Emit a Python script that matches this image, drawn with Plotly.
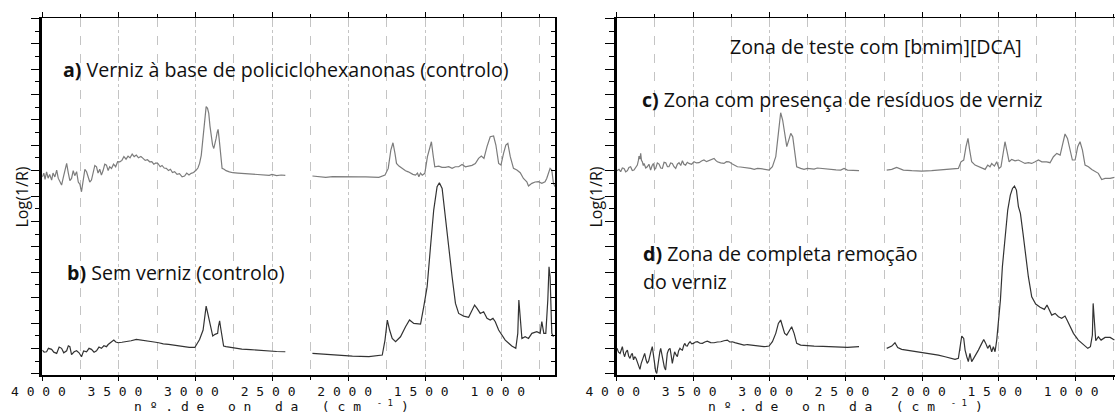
import plotly.graph_objects as go

# ---------------- data (wavenumber cm-1, Log(1/R) arbitrary units) ----------------
# a) varnish control (left, upper)
wn_a1 = [4000, 3990, 3982, 3972, 3962, 3952, 3939, 3930, 3918, 3906, 3896, 3885, 3874, 3862, 3851, 3841,
         3830, 3820, 3809, 3798, 3788, 3776, 3765, 3754, 3744, 3733, 3722, 3711, 3700, 3690, 3679, 3668,
         3657, 3646, 3636, 3625, 3614, 3603, 3592, 3581, 3570, 3560, 3548, 3535, 3521, 3508, 3494, 3480,
         3467, 3453, 3440, 3427, 3413, 3400, 3386, 3372, 3356, 3342, 3328, 3313, 3299, 3285, 3272, 3258,
         3245, 3230, 3218, 3204, 3190, 3176, 3163, 3150, 3136, 3120, 3104, 3087, 3071, 3057, 3042, 3028,
         3012, 2995, 2984, 2973, 2962, 2952, 2941, 2930, 2921, 2913, 2905, 2897, 2888, 2880, 2872, 2865,
         2858, 2852, 2845, 2839, 2832, 2826, 2813, 2800, 2778, 2756, 2723, 2691, 2648, 2605, 2560, 2518,
         2500, 2470, 2440, 2413]
val_a1 = [15.6, 15.9, 15.4, 16.0, 15.5, 15.8, 15.35, 15.9, 15.6, 16.14, 15.5, 15.2, 14.96, 15.6, 16.3, 16.66,
          15.9, 15.3, 15.48, 16.1, 15.7, 16.01, 15.2, 15.0, 14.43, 15.3, 16.2, 16.01, 15.6, 15.2, 15.35, 16.0,
          16.5, 16.4, 15.9, 16.2, 15.74, 16.1, 16.6, 16.53, 16.1, 16.4, 16.27, 16.6, 16.4, 16.8, 16.79, 16.9,
          17.2, 17.0, 17.24, 17.1, 17.4, 17.2, 17.32, 17.1, 17.2, 17.06, 16.9, 16.95, 16.79, 16.8, 16.6, 16.7,
          16.66, 16.4, 16.5, 16.3, 16.27, 16.1, 16.2, 15.95, 16.01, 15.8, 15.85, 15.6, 15.67, 15.9, 15.75, 15.88,
          15.95, 16.14, 16.3, 16.66, 17.3, 18.5, 20.0, 21.13, 21.0, 20.6, 19.6, 18.76, 18.1, 17.84, 18.2, 18.63,
          19.1, 19.34, 18.6, 17.71, 16.8, 16.27, 16.2, 16.09, 16.0, 15.93, 15.9, 15.88, 15.85, 15.82, 15.75, 15.72,
          15.8, 15.7, 15.75, 15.72]
wn_a2 = [2236, 2193, 2149, 2105, 2062, 2018, 1975, 1932, 1888, 1845, 1802, 1762, 1741, 1724, 1710, 1697,
         1687, 1671, 1650, 1628, 1610, 1595, 1580, 1563, 1550, 1541, 1530, 1519, 1502, 1485, 1470, 1459,
         1448, 1437, 1411, 1390, 1368, 1346, 1324, 1303, 1281, 1259, 1237, 1215, 1194, 1172, 1151, 1133,
         1116, 1096, 1075, 1053, 1038, 1020, 1005, 988, 973, 960, 944, 923, 901, 879, 858, 836,
         825, 803, 782, 760, 738, 717, 706, 684, 673, 662, 651]
val_a2 = [15.67, 15.6, 15.56, 15.62, 15.61, 15.57, 15.56, 15.6, 15.61, 15.58, 15.56, 15.74, 16.27, 17.71, 18.29, 17.45,
          16.66, 16.45, 16.27, 16.09, 16.0, 15.88, 15.8, 15.74, 15.9, 15.61, 15.9, 15.74, 15.88, 17.19, 17.98, 18.37,
          17.32, 16.4, 16.45, 16.35, 16.35, 16.4, 16.27, 16.4, 16.4, 16.58, 16.4, 16.45, 16.51, 16.66, 17.06, 17.24,
          17.06, 17.98, 18.76, 18.82, 18.11, 16.66, 16.53, 17.45, 18.11, 18.24, 17.19, 16.27, 16.14, 15.93, 15.48, 15.22,
          14.88, 15.09, 15.2, 15.22, 15.1, 15.22, 15.48, 16.27, 16.14, 15.09, 14.83]

# b) no varnish control (left, lower)
wn_b1 = [4000, 3988, 3972, 3960, 3939, 3925, 3906, 3890, 3874, 3860, 3841, 3830, 3820, 3809, 3792, 3776,
         3760, 3744, 3730, 3711, 3695, 3679, 3662, 3646, 3630, 3614, 3598, 3581, 3570, 3559, 3548, 3533,
         3520, 3505, 3480, 3454, 3420, 3386, 3355, 3320, 3299, 3270, 3240, 3210, 3175, 3140, 3110, 3080,
         3060, 3040, 3004, 2973, 2950, 2940, 2930, 2922, 2915, 2900, 2887, 2872, 2855, 2850, 2842, 2835,
         2829, 2822, 2816, 2800, 2770, 2733, 2697, 2640, 2605, 2560, 2518, 2470, 2413]
val_b1 = [1.96, 1.8, 1.83, 2.1, 2.02, 1.8, 1.7, 2.2, 2.1, 1.75, 1.91, 2.3, 2.23, 1.6, 1.83, 1.91,
          1.75, 1.44, 1.9, 1.83, 2.1, 2.02, 1.8, 1.91, 2.2, 2.1, 2.3, 2.23, 2.4, 2.49, 2.6, 2.75,
          2.6, 2.54, 2.58, 2.62, 2.7, 2.8, 2.75, 2.72, 2.7, 2.6, 2.54, 2.45, 2.41, 2.35, 2.28, 2.25,
          2.2, 2.17, 2.17, 2.8, 3.54, 4.4, 5.43, 5.0, 4.59, 3.6, 3.07, 3.2, 3.28, 3.8, 4.27, 3.7,
          3.28, 2.6, 2.28, 2.23, 2.17, 2.1, 2.04, 2.0, 1.96, 1.92, 1.89, 1.85, 1.83]
wn_b2 = [2236, 2105, 1975, 1867, 1780, 1762, 1747, 1732, 1715, 1693, 1661, 1628, 1602, 1574, 1530, 1509,
         1487, 1465, 1444, 1422, 1407, 1389, 1368, 1346, 1324, 1302, 1281, 1248, 1216, 1194, 1177, 1161,
         1140, 1118, 1096, 1075, 1057, 1042, 1020, 977, 934, 908, 895, 888, 879, 868, 847, 825,
         803, 771, 749, 738, 725, 712, 699, 691, 684, 673, 662]
val_b2 = [1.7, 1.57, 1.49, 1.44, 1.57, 2.75, 4.33, 3.54, 2.88, 2.62, 3.01, 3.8, 4.33, 4.06, 4.01, 5.38,
          6.95, 10.1, 12.99, 14.83, 15.14, 14.69, 12.2, 10.1, 7.74, 5.64, 4.85, 4.64, 4.54, 5.12, 5.51, 5.25,
          4.85, 4.98, 4.46, 4.33, 4.46, 4.2, 3.54, 2.75, 2.28, 2.1, 3.28, 5.9, 4.2, 2.88, 3.01, 2.88,
          3.28, 3.41, 3.28, 4.2, 3.28, 3.28, 5.9, 8.53, 7.74, 3.28, 3.01]

# c) test zone with varnish residues (right, upper)
wn_c1 = [3998, 3985, 3974, 3963, 3952, 3941, 3930, 3920, 3909, 3898, 3887, 3876, 3865, 3858, 3854, 3848,
         3843, 3838, 3832, 3826, 3821, 3810, 3800, 3789, 3778, 3768, 3760, 3752, 3745, 3734, 3723, 3712,
         3701, 3690, 3679, 3668, 3658, 3647, 3636, 3625, 3614, 3603, 3592, 3581, 3570, 3560, 3549, 3538,
         3527, 3510, 3494, 3478, 3461, 3445, 3429, 3412, 3396, 3380, 3363, 3352, 3341, 3320, 3298, 3282,
         3265, 3243, 3227, 3210, 3190, 3167, 3145, 3123, 3100, 3079, 3058, 3036, 3020, 3003, 2981, 2959,
         2942, 2927, 2914, 2901, 2887, 2874, 2861, 2848, 2835, 2822, 2796, 2774, 2752, 2730, 2708, 2687,
         2665, 2630, 2599, 2565, 2534, 2512, 2490, 2450, 2414]
val_c1 = [16.09, 16.2, 16.01, 16.3, 16.27, 16.0, 16.09, 16.35, 16.4, 16.1, 16.14, 16.4, 16.53, 16.9, 17.24, 17.0,
          17.45, 16.9, 16.79, 16.5, 16.66, 16.3, 16.4, 16.6, 16.14, 16.5, 16.66, 16.2, 16.27, 16.7, 16.61, 16.3,
          16.27, 16.75, 16.72, 16.4, 16.4, 16.7, 16.66, 16.4, 16.27, 16.6, 16.72, 16.5, 16.87, 16.6, 16.53, 16.75,
          16.66, 16.6, 16.79, 16.7, 16.72, 16.85, 16.93, 16.8, 16.87, 17.0, 17.06, 16.9, 16.79, 16.7, 16.66, 16.8,
          16.79, 16.61, 16.5, 16.4, 16.38, 16.35, 16.3, 16.27, 16.2, 16.27, 16.25, 16.19, 16.15, 16.14, 16.4, 17.19,
          19.03, 20.65, 20.08, 19.03, 17.98, 18.5, 19.03, 18.76, 17.71, 16.4, 16.27, 16.2, 16.27, 16.25, 16.22, 16.3,
          16.27, 16.2, 16.14, 16.15, 16.14, 16.27, 16.14, 16.1, 16.09]
wn_c2 = [2233, 2200, 2168, 2146, 2124, 2069, 2004, 1939, 1873, 1808, 1764, 1747, 1729, 1714, 1701, 1690,
         1677, 1655, 1633, 1611, 1589, 1572, 1557, 1546, 1528, 1513, 1498, 1485, 1472, 1459, 1445, 1432,
         1415, 1393, 1371, 1349, 1328, 1306, 1284, 1262, 1240, 1218, 1186, 1164, 1142, 1120, 1098, 1083,
         1066, 1050, 1033, 1018, 1000, 983, 968, 952, 935, 913, 891, 869, 848, 826, 804, 771, 743]
val_c2 = [16.14, 16.19, 16.35, 16.27, 16.14, 16.09, 16.06, 16.09, 16.14, 16.19, 16.27, 16.79, 16.93, 17.98, 18.63, 17.71,
          16.79, 16.53, 16.4, 16.27, 16.19, 16.53, 16.4, 16.66, 16.45, 16.79, 16.27, 16.4, 17.45, 18.37, 17.58, 16.79,
          16.98, 16.87, 16.93, 16.79, 16.66, 16.72, 16.66, 16.79, 16.93, 16.79, 16.79, 16.72, 17.19, 17.45, 17.32, 18.11,
          18.98, 18.63, 17.71, 16.93, 16.93, 17.98, 18.37, 17.71, 16.53, 16.4, 16.19, 16.01, 15.88, 15.4, 15.48, 15.48, 15.56]

# d) test zone, varnish completely removed (right, lower)
wn_d1 = [3998, 3988, 3978, 3970, 3963, 3955, 3948, 3940, 3930, 3922, 3913, 3905, 3898, 3890, 3882, 3873,
         3865, 3856, 3848, 3840, 3832, 3825, 3817, 3808, 3800, 3791, 3782, 3775, 3767, 3760, 3751, 3745,
         3738, 3731, 3725, 3718, 3712, 3703, 3695, 3688, 3680, 3675, 3669, 3660, 3651, 3643, 3636, 3628,
         3621, 3612, 3603, 3595, 3586, 3578, 3570, 3562, 3555, 3546, 3538, 3529, 3520, 3509, 3498, 3485,
         3472, 3455, 3439, 3423, 3407, 3385, 3363, 3341, 3319, 3298, 3276, 3260, 3243, 3227, 3210, 3190,
         3167, 3145, 3123, 3101, 3079, 3058, 3036, 3020, 3003, 2981, 2959, 2942, 2927, 2914, 2901, 2887,
         2870, 2855, 2839, 2822, 2796, 2750, 2708, 2650, 2599, 2545, 2490, 2414]
val_d1 = [2.1, 1.8, 1.7, 2.1, 2.23, 1.7, 1.44, 1.8, 1.96, 1.5, 1.31, 1.6, 1.7, 1.2, 1.44, 1.3,
          1.05, 0.7, 0.44, 0.9, 1.18, 1.5, 1.7, 1.2, 0.92, 1.1, 1.44, 1.9, 2.23, 1.5, 0.65, 0.3,
          0.13, 0.8, 1.31, 1.8, 2.1, 1.4, 0.92, 0.6, 0.39, 0.9, 1.7, 2.0, 2.1, 1.5, 0.92, 1.4,
          1.83, 1.6, 1.44, 1.9, 2.1, 2.0, 1.96, 2.3, 2.49, 2.3, 2.28, 2.5, 2.62, 2.45, 2.49, 2.6,
          2.62, 2.5, 2.49, 2.6, 2.67, 2.55, 2.54, 2.6, 2.62, 2.7, 2.75, 2.6, 2.62, 2.55, 2.49, 2.45,
          2.36, 2.4, 2.36, 2.3, 2.28, 2.25, 2.23, 2.25, 2.28, 2.62, 3.28, 4.06, 4.33, 3.8, 3.28, 3.15,
          3.54, 3.8, 3.28, 2.49, 2.36, 2.3, 2.28, 2.25, 2.23, 2.2, 2.17, 2.23]
wn_d2 = [2233, 2200, 2179, 2161, 2135, 2069, 2004, 1939, 1895, 1851, 1819, 1786, 1764, 1753, 1742, 1729,
         1720, 1709, 1699, 1688, 1677, 1664, 1650, 1633, 1611, 1598, 1585, 1572, 1559, 1546, 1535, 1524,
         1513, 1502, 1489, 1476, 1458, 1441, 1424, 1410, 1397, 1384, 1371, 1358, 1341, 1323, 1306, 1284,
         1258, 1229, 1201, 1184, 1170, 1153, 1131, 1109, 1088, 1066, 1053, 1033, 1011, 979, 946, 917,
         900, 887, 882, 874, 865, 848, 830, 804, 771, 743]
val_d2 = [2.1, 2.28, 2.54, 2.17, 2.02, 1.91, 1.76, 1.65, 1.57, 1.44, 1.31, 1.23, 1.31, 2.1, 3.07, 2.88,
          1.96, 1.44, 1.05, 1.7, 1.05, 1.31, 1.57, 1.96, 2.49, 2.8, 2.49, 2.1, 2.36, 1.83, 2.23, 1.83,
          2.75, 4.06, 5.9, 8.53, 11.15, 12.99, 14.17, 14.69, 14.88, 14.56, 13.25, 12.73, 11.15, 9.31, 7.74, 6.16,
          5.59, 5.33, 5.17, 5.51, 5.12, 4.72, 4.85, 4.59, 4.46, 4.64, 4.33, 3.8, 3.28, 2.75, 2.36, 2.1,
          2.23, 3.15, 5.64, 3.8, 2.7, 3.01, 2.75, 2.96, 2.96, 2.75]

tick_vals = [4000, 3500, 3000, 2500, 2000, 1500, 1000]
tick_labels = ["4 0 0 0", "3 5 0 0", "3 0 0 0", "2 5 0 0", "2 0 0 0", "1 5 0 0", "1 0 0 0"]

label_a = "<b>a)</b> Verniz à base de policiclohexanonas (controlo)"
label_b = "<b>b)</b> Sem verniz (controlo)"
label_title_r = "Zona de teste com [bmim][DCA]"
label_c = "<b>c)</b> Zona com presença de resíduos de verniz"
label_d1 = "<b>d)</b> Zona de completa remoção"
label_d2 = "do verniz"
y_title = "Log(1/R)"

# ---------------- figure ----------------
W, H = 1115, 414
NB = "\u00a0"
MONO = "DejaVu Sans Mono, Liberation Mono, monospace"


def join_gap(a, b):
    return a + [None] + b


fig = go.Figure()

line_light = dict(color="#7c7c7c", width=1.2)
line_dark = dict(color="#333333", width=1.2)

fig.add_trace(go.Scatter(x=join_gap(wn_a1, wn_a2), y=join_gap(val_a1, val_a2), mode="lines",
                         line=line_light, xaxis="x", yaxis="y", connectgaps=False))
fig.add_trace(go.Scatter(x=join_gap(wn_b1, wn_b2), y=join_gap(val_b1, val_b2), mode="lines",
                         line=line_dark, xaxis="x", yaxis="y", connectgaps=False))
fig.add_trace(go.Scatter(x=join_gap(wn_c1, wn_c2), y=join_gap(val_c1, val_c2), mode="lines",
                         line=line_light, xaxis="x2", yaxis="y2", connectgaps=False))
fig.add_trace(go.Scatter(x=join_gap(wn_d1, wn_d2), y=join_gap(val_d1, val_d2), mode="lines",
                         line=line_dark, xaxis="x2", yaxis="y2", connectgaps=False))
# carriers for the extra frame axes (no visible marks)
for xa, ya in [("x3", "y"), ("x", "y3"), ("x4", "y2")]:
    fig.add_trace(go.Scatter(x=[None], y=[None], mode="lines", xaxis=xa, yaxis=ya, hoverinfo="skip"))


def px_x(p):
    return p / W


def px_y(p):
    return (H - p) / H


ydom = [px_y(374.5), px_y(18.3)]
yrange = [0.04, 28.09]
dom_l = [px_x(42.3), px_x(555.3)]
dom_r = [px_x(616.7), 1.0]
range_l = [4000, 650]
range_r = [4000, 739]

grid_major = dict(showgrid=True, gridcolor="#c4c4c4", gridwidth=1, griddash="dot")
tick_font = dict(family=MONO, size=13, color="#111111")

ticktext = [t.replace(" ", NB) + NB for t in tick_labels]


def bottom_axis(dom, rng, anchor):
    return dict(domain=dom, range=rng, anchor=anchor, automargin=False, tickmode="array",
                tickvals=tick_vals, ticktext=ticktext, ticks="outside", ticklen=4, tickwidth=1,
                tickcolor="black", showline=True, linewidth=2, linecolor="black", zeroline=False,
                tickfont=tick_font, tickangle=0,
                minor=dict(dtick=250, tick0=0, ticks="outside", ticklen=3, tickcolor="black",
                           showgrid=True, gridcolor="#c4c4c4", gridwidth=1, griddash="dash"),
                **grid_major)


def top_axis(over, rng, anchor):
    return dict(overlaying=over, side="top", range=rng, anchor=anchor, automargin=False,
                tickmode="array", tickvals=tick_vals, showticklabels=False, ticks="outside",
                ticklen=5, tickwidth=1, tickcolor="black", showline=True, linewidth=1.2,
                linecolor="black", zeroline=False, showgrid=False,
                minor=dict(dtick=250, tick0=0, ticks="outside", ticklen=3, tickcolor="black"))


def left_axis(anchor):
    return dict(domain=ydom, range=yrange, anchor=anchor, automargin=False, ticks="outside",
                tick0=0.09, dtick=2, ticklen=9, tickwidth=1, tickcolor="black",
                showticklabels=False, showline=True, linewidth=2.5, linecolor="black",
                zeroline=False, showgrid=False,
                minor=dict(tick0=0.09, dtick=1, ticks="outside", ticklen=5, tickcolor="black"))


fig.update_layout(
    template="none",
    width=W, height=H, margin=dict(l=0, r=0, t=0, b=0, pad=0), autosize=False,
    paper_bgcolor="white", plot_bgcolor="white", showlegend=False,
    xaxis=bottom_axis(dom_l, range_l, "y"),
    xaxis2=bottom_axis(dom_r, range_r, "y2"),
    xaxis3=top_axis("x", range_l, "y"),
    xaxis4=top_axis("x2", range_r, "y2"),
    yaxis=left_axis("x"),
    yaxis2=left_axis("x2"),
    yaxis3=dict(overlaying="y", side="right", anchor="x", range=yrange, automargin=False,
                ticks="inside", tick0=0.09, dtick=1, ticklen=4, tickwidth=1, tickcolor="black",
                showticklabels=False, showline=True, linewidth=2, linecolor="black",
                zeroline=False, showgrid=False),
)

txt_font = dict(family="Open Sans, Lato, sans-serif", size=19.6, color="#111111")
annos = [
    dict(text=label_a, x=px_x(62), y=px_y(70)),
    dict(text=label_b, x=px_x(66), y=px_y(272)),
    dict(text=label_title_r, x=px_x(729), y=px_y(47)),
    dict(text=label_c, x=px_x(641), y=px_y(100)),
    dict(text=label_d1, x=px_x(642), y=px_y(253)),
    dict(text=label_d2, x=px_x(642), y=px_y(281)),
]
for a in annos:
    fig.add_annotation(xref="paper", yref="paper", showarrow=False, font=txt_font,
                       xanchor="left", yanchor="middle", align="left", borderpad=0, **a)

for cx in (21.5, 595.5):
    fig.add_annotation(text=y_title, xref="paper", yref="paper", x=px_x(cx), y=px_y(197),
                       textangle=-90, showarrow=False, xanchor="center", yanchor="middle",
                       borderpad=0,
                       font=dict(family="Open Sans, Lato, sans-serif", size=16, color="#111111"))

x_title = ("n" + NB + "º" + NB + "." + NB + "d" + NB + "e" + NB * 3 + "o" + NB + "n" + NB * 3
           + "d" + NB + "a" + NB * 3 + "(" + NB + "c" + NB + "m" + NB * 2
           + "<sup>-" + NB + "1</sup>" + NB + ")")
for lx in (133, 707):
    fig.add_annotation(text=x_title, xref="paper", yref="paper", x=px_x(lx), y=px_y(406),
                       xanchor="left", yanchor="middle", align="left", showarrow=False, borderpad=0,
                       font=dict(family=MONO, size=13, color="#111111"))

fig.write_html("out.html")
